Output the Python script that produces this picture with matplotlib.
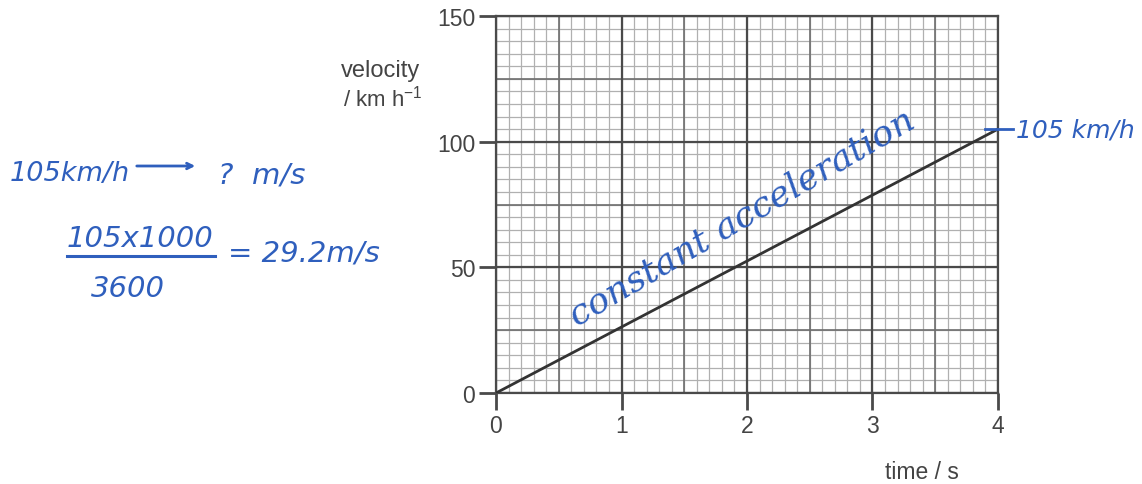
import numpy as np
import matplotlib
matplotlib.use("Agg")
import matplotlib.pyplot as plt

# data
time_s = [0, 4]
velocity_kmh = [0, 105]
x_ticks = [0, 1, 2, 3, 4]
y_ticks = [0, 50, 100, 150]

plt.rcParams["font.family"] = ["Liberation Sans", "DejaVu Sans"]

fig = plt.figure(figsize=(11.42, 4.85), dpi=100)
ax = fig.add_axes([496 / 1142, 91 / 485, 502 / 1142, 377 / 485])

ax.set_xlim(0, 4)
ax.set_ylim(0, 150)

# graph paper grid: minor, medium, major
for xv in np.arange(0, 4.01, 0.1):
    ax.axvline(xv, color="#b0b0b0", lw=0.9, zorder=1)
for yv in np.arange(0, 150.1, 5):
    ax.axhline(yv, color="#b0b0b0", lw=0.9, zorder=1)
for xv in np.arange(0.5, 4, 1.0):
    ax.axvline(xv, color="#6e6e6e", lw=1.2, zorder=2)
for yv in [25, 75, 125]:
    ax.axhline(yv, color="#6e6e6e", lw=1.2, zorder=2)
for xv in x_ticks:
    ax.axvline(xv, color="#4a4a4a", lw=1.6, zorder=3)
for yv in y_ticks:
    ax.axhline(yv, color="#4a4a4a", lw=1.6, zorder=3)

for s in ax.spines.values():
    s.set_color("#4a4a4a")
    s.set_linewidth(1.6)

ax.set_xticks(x_ticks)
ax.set_yticks(y_ticks)
ax.tick_params(direction="out", length=12, width=2, color="#4a4a4a",
               labelsize=16.5, labelcolor="#444444", pad=3)

ax.plot(time_s, velocity_kmh, color="#333333", lw=2, zorder=4)

lab = dict(fontsize=17, color="#444444")
fig.text(341 / 1142, 1 - 77 / 485, "velocity", **lab)
fig.text(343 / 1142, 1 - 106 / 485, "/ km h$^{\\mathregular{-1}}$", fontsize=16, color="#444444")
fig.text(922 / 1142, 1 - 479 / 485, "time / s", ha="center", fontsize=16.5, color="#444444")

# handwritten notes
blue = "#2f5fbd"
hw = dict(color=blue, fontsize=21, family="DejaVu Sans", fontstyle="italic")
fig.text(10 / 1142, 1 - 181 / 485, "105km/h", color=blue, fontsize=19.5,
         family="DejaVu Sans", fontstyle="italic")
ax.annotate("", xy=(198 / 1142, 1 - 167 / 485), xytext=(134 / 1142, 1 - 167 / 485),
            xycoords="figure fraction", textcoords="figure fraction",
            annotation_clip=False,
            arrowprops=dict(arrowstyle="->", color=blue, lw=2))
fig.text(218 / 1142, 1 - 183 / 485, "?  m/s", **hw)
fig.text(140 / 1142, 1 - 247 / 485, "105x1000", ha="center", **hw)
fig.add_artist(plt.Line2D([67 / 1142, 215 / 1142], [1 - 257 / 485, 1 - 257 / 485],
                          color=blue, lw=2.2))
fig.text(128 / 1142, 1 - 297 / 485, "3600", ha="center", **hw)
fig.text(228 / 1142, 1 - 262 / 485, "= 29.2m/s", **hw)

ax.text(1.96, 70, "constant acceleration", rotation=30.5, rotation_mode="anchor",
        ha="center", va="center", color=blue, fontsize=26,
        family="DejaVu Serif", fontstyle="italic", zorder=5)

ax.plot([3.9, 4.12], [105, 105], color=blue, lw=2, clip_on=False, zorder=5)
ax.text(4.14, 105, "105 km/h", va="center", ha="left", clip_on=False,
        color=blue, fontsize=18, family="DejaVu Sans", fontstyle="italic")

fig.savefig("out.png", dpi=100, facecolor="white")
